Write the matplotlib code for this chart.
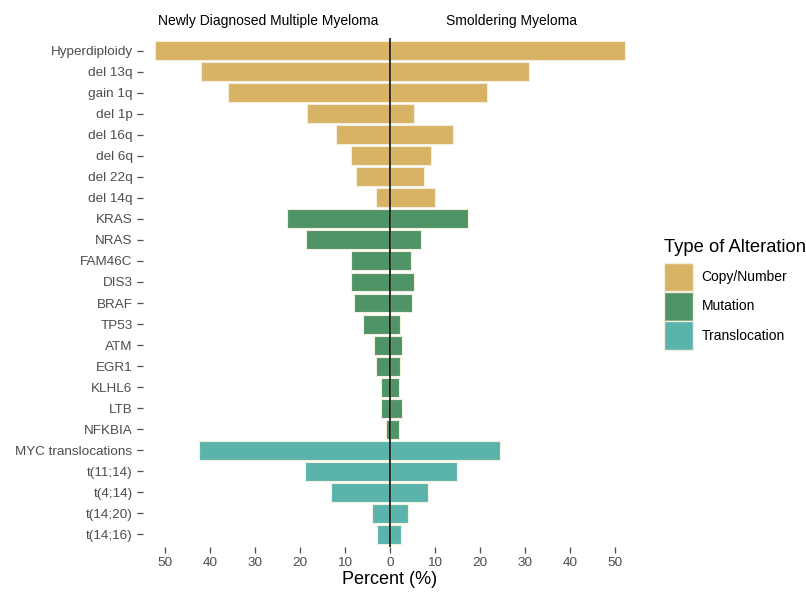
import matplotlib
matplotlib.use("Agg")
import matplotlib.pyplot as plt
from matplotlib.patches import Patch
from matplotlib.transforms import blended_transform_factory, offset_copy
import numpy as np

plt.rcParams['font.family'] = ['Liberation Sans', 'DejaVu Sans']

categories = ["Hyperdiploidy", "del 13q", "gain 1q", "del 1p", "del 16q", "del 6q",
              "del 22q", "del 14q", "KRAS", "NRAS", "FAM46C", "DIS3", "BRAF", "TP53",
              "ATM", "EGR1", "KLHL6", "LTB", "NFKBIA", "MYC translocations",
              "t(11;14)", "t(4;14)", "t(14;20)", "t(14;16)"]
types = ["Copy/Number"] * 8 + ["Mutation"] * 11 + ["Translocation"] * 5
ndmm = [52.2, 42.1, 35.9, 18.4, 11.9, 8.7, 7.5, 3.1, 22.8, 18.7, 8.7, 8.7, 7.9, 6.1,
        3.6, 3.1, 2.1, 2.0, 1.0, 42.5, 19.0, 13.1, 4.0, 3.0]
smm = [52.2, 31.0, 21.6, 5.3, 14.1, 9.2, 7.6, 9.9, 17.4, 7.0, 4.7, 5.3, 5.0, 2.3,
       2.6, 2.3, 1.9, 2.7, 2.0, 24.5, 14.9, 8.4, 3.9, 2.4]
type_colors = {"Copy/Number": "#D8B365", "Mutation": "#4F9466", "Translocation": "#5AB4AC"}
xticks = [-50, -40, -30, -20, -10, 0, 10, 20, 30, 40, 50]

fig = plt.figure(figsize=(8.06, 5.92), dpi=100)
ax = fig.add_axes([143 / 806, 1 - 547 / 592, (637 - 143) / 806, (547 - 38) / 592])

y = np.arange(len(categories))
cols = [type_colors[t] for t in types]
ax.barh(y, [-v for v in ndmm], height=0.9, color=cols, edgecolor="#F4EEDD", linewidth=0.8)
ax.barh(y, smm, height=0.9, color=cols, edgecolor="#F4EEDD", linewidth=0.8)
ax.axvline(0, color="black", linewidth=1.1)

ax.set_xlim(-54.9, 54.9)
ax.set_ylim(len(categories) - 0.4, -0.6)
ax.set_yticks(y)
ax.set_yticklabels(categories)
ax.set_xticks(xticks)
ax.set_xticklabels([str(abs(t)) for t in xticks])
ax.tick_params(axis="both", colors="#4D4D4D", labelcolor="#4D4D4D", labelsize=9.7,
               length=4, width=0.9, direction="out")
ax.tick_params(axis="x", pad=3)
for s in ax.spines.values():
    s.set_visible(False)
ax.set_xlabel("Percent (%)", fontsize=13, color="black", labelpad=2)

tr = offset_copy(blended_transform_factory(ax.transData, ax.transAxes), fig=fig,
                 x=0, y=10, units="dots")
ax.text(-27, 1.0, "Newly Diagnosed Multiple Myeloma", ha="center", va="bottom",
        fontsize=10, clip_on=False, transform=tr)
ax.text(27, 1.0, "Smoldering Myeloma", ha="center", va="bottom",
        fontsize=10, clip_on=False, transform=tr)

handles = [Patch(facecolor=c, edgecolor="#F4EEDD", label=k) for k, c in type_colors.items()]
leg = fig.legend(handles=handles, title="Type of Alteration", loc="upper left",
                 bbox_to_anchor=(658 / 806, 1 - 233 / 592), frameon=False,
                 fontsize=10, title_fontsize=13.2, handlelength=2.1, handleheight=2.8,
                 labelspacing=0.05, handletextpad=0.65, borderaxespad=0)
leg._legend_box.align = "left"
leg._legend_box.sep = 5

fig.savefig("out.png", dpi=100)
